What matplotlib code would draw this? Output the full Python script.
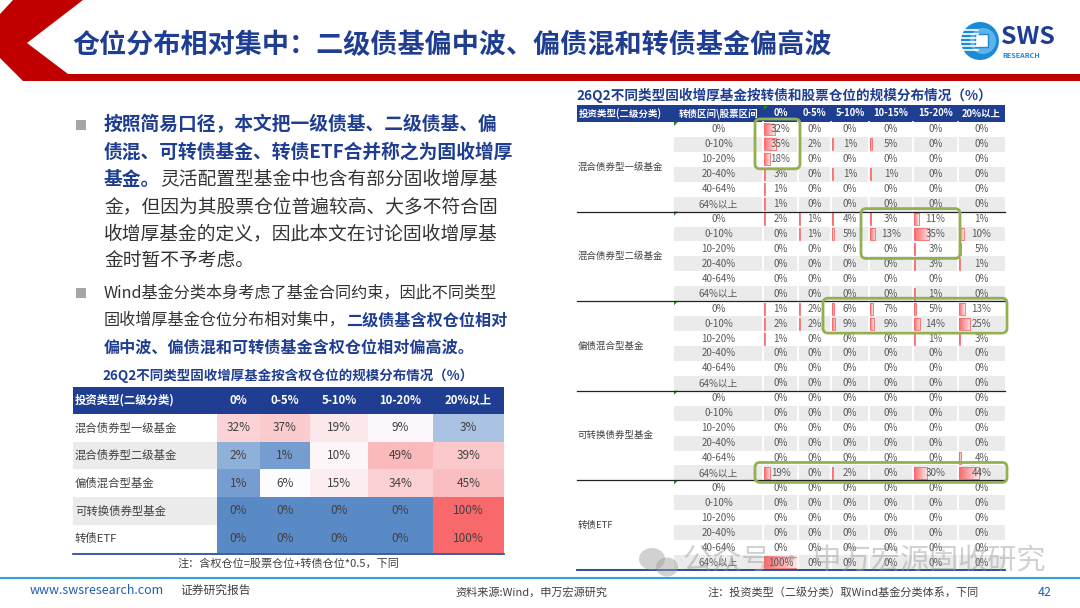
import numpy as np
import matplotlib
matplotlib.use("Agg")
import matplotlib.pyplot as plt
from matplotlib.patches import Polygon, Rectangle, Circle, Ellipse, FancyBboxPatch
from matplotlib.colors import LinearSegmentedColormap, TwoSlopeNorm

plt.rcParams['font.family'] = ['Noto Sans CJK SC', 'DejaVu Sans']

# ---------------- 数据 ----------------
titulo = "仓位分布相对集中：二级债基偏中波、偏债混和转债基金偏高波"

# 左表：按含权仓位
tipos = ["混合债券型一级基金", "混合债券型二级基金", "偏债混合型基金", "可转换债券型基金", "转债ETF"]
col_hanquan = ["0%", "0-5%", "5-10%", "10-20%", "20%以上"]
val_hanquan = np.array([
    [32, 37, 19, 9, 3],
    [2, 1, 10, 49, 39],
    [1, 6, 15, 34, 45],
    [0, 0, 0, 0, 100],
    [0, 0, 0, 0, 100],
])

# 右表：按转债和股票仓位
filas_zz = ["0%", "0-10%", "10-20%", "20-40%", "40-64%", "64%以上"]
col_gp = ["0%", "0-5%", "5-10%", "10-15%", "15-20%", "20%以上"]
val_yiji = [[32, 0, 0, 0, 0, 0], [35, 2, 1, 5, 0, 0], [18, 0, 0, 0, 0, 0],
            [3, 0, 1, 1, 0, 0], [1, 0, 0, 0, 0, 0], [1, 0, 0, 0, 0, 0]]
val_erji = [[2, 1, 4, 3, 11, 1], [0, 1, 5, 13, 35, 10], [0, 0, 0, 0, 3, 5],
            [0, 0, 0, 0, 3, 1], [0, 0, 0, 0, 0, 0], [0, 0, 0, 0, 1, 0]]
val_pianzhai = [[1, 2, 6, 7, 5, 13], [2, 2, 9, 9, 14, 25], [1, 0, 0, 0, 1, 3],
                [0, 0, 0, 0, 0, 0], [0, 0, 0, 0, 0, 0], [0, 0, 0, 0, 0, 0]]
val_kezhuan = [[0, 0, 0, 0, 0, 0], [0, 0, 0, 0, 0, 0], [0, 0, 0, 0, 0, 0],
               [0, 0, 0, 0, 0, 0], [0, 0, 0, 0, 0, 4], [19, 0, 2, 0, 30, 44]]
val_etf = [[0, 0, 0, 0, 0, 0], [0, 0, 0, 0, 0, 0], [0, 0, 0, 0, 0, 0],
           [0, 0, 0, 0, 0, 0], [0, 0, 0, 0, 0, 0], [100, 0, 0, 0, 0, 0]]
grupos = [val_yiji, val_erji, val_pianzhai, val_kezhuan, val_etf]

# 绿框：(组, 起始行, 结束行, 起始列, 结束列)
resaltes = [(0, 0, 2, 0, 0), (1, 0, 2, 3, 4), (2, 0, 1, 2, 5), (3, 5, 5, 0, 5)]

# 正文
bullet1 = [
    [("按照简易口径，本文把一级债基、二级债基、偏", True)],
    [("债混、可转债基金、转债ETF合并称之为固收增厚", True)],
    [("基金。", True), ("灵活配置型基金中也含有部分固收增厚基", False)],
    [("金，但因为其股票仓位普遍较高、大多不符合固", False)],
    [("收增厚基金的定义，因此本文在讨论固收增厚基", False)],
    [("金时暂不予考虑。", False)],
]
bullet2 = [
    [("Wind基金分类本身考虑了基金合同约束，因此不同类型", False)],
    [("固收增厚基金仓位分布相对集中，", False), ("二级债基含权仓位相对", True)],
    [("偏中波、偏债混和可转债基金含权仓位相对偏高波。", True)],
]

AZUL = "#1F3E92"
GRIS = "#404040"
ROJO = "#C00000"

# ---------------- 画布 ----------------
fig = plt.figure(figsize=(10.8, 6.08), dpi=100)
ax = fig.add_axes([0, 0, 1, 1])
ax.set_xlim(0, 1080)
ax.set_ylim(608, 0)
ax.axis("off")
renderer = fig.canvas.get_renderer()

# 标题栏红色折角
ax.add_patch(Polygon([(13, 0), (83, 0), (27, 43), (68, 74), (1080, 74), (1080, 81),
                      (23, 81), (0, 58), (0, 14)], closed=True, color=ROJO, lw=0))
ax.text(72, 45, titulo, fontsize=19.5, color=AZUL, weight="bold", va="center", ha="left")

# logo
ax.add_patch(Circle((980, 41), 19, color="#1C8AD6", lw=0))
ax.add_patch(Circle((983, 41), 13, color="#5DB4EC", lw=0))
for yy in np.arange(30, 54, 4):
    ax.plot([962, 978], [yy, yy], color="white", lw=1.2)
ax.add_patch(Rectangle((975, 34), 13, 13, facecolor="white", edgecolor="#1C8AD6", lw=1))
ax.text(1001, 37, "SWS", fontsize=18, weight="bold", color=AZUL, va="center", ha="left")
ax.text(1002, 55, "RESEARCH", fontsize=5.2, weight="bold", color="#1C8AD6", va="center", ha="left")


def escribir(x, y, partes, size):
    for txt, negrita in partes:
        t = ax.text(x, y, txt, fontsize=size, va="center", ha="left",
                    color=AZUL if negrita else "#333333",
                    weight="bold" if negrita else "normal")
        x += t.get_window_extent(renderer).width


for ys, bloque, tam in [(125, bullet1, 13.5), (293, bullet2, 11.6)]:
    ax.add_patch(Rectangle((76, ys - 5), 10, 10, color="#A6A6A6", lw=0))
    for i, linea in enumerate(bloque):
        escribir(104, ys + i * 27.3, linea, tam)

# ---------------- 左表 ----------------
lx = np.array([73, 217, 260, 310, 368, 433, 504])
lh_top, lh_bot = 387, 414
lrow = 27.7
ly = lh_bot + lrow * np.arange(len(tipos) + 1)

ax.text((lx[0] + lx[-1]) / 2, 376, "26Q2不同类型固收增厚基金按含权仓位的规模分布情况（%）",
        fontsize=9.7, weight="bold", color=AZUL, ha="center", va="center")
ax.add_patch(Rectangle((lx[0], lh_top), lx[-1] - lx[0], lh_bot - lh_top, color="#1F3E92", lw=0))
ax.text(lx[0] + 2, (lh_top + lh_bot) / 2, "投资类型(二级分类)", fontsize=8.2, weight="bold",
        color="white", ha="left", va="center")
for j, c in enumerate(col_hanquan):
    ax.text((lx[j + 1] + lx[j + 2]) / 2, (lh_top + lh_bot) / 2, c, fontsize=8.2,
            weight="bold", color="white", ha="center", va="center")

mid = np.percentile(val_hanquan, 50)
cmap3 = LinearSegmentedColormap.from_list("excel3", ["#5A8AC6", "#FCFCFF", "#F8696B"])
ax.pcolormesh(lx[1:], ly, val_hanquan, cmap=cmap3,
              norm=TwoSlopeNorm(vmin=0, vcenter=mid, vmax=val_hanquan.max()))
for i, tp in enumerate(tipos):
    if i % 2 == 1:
        ax.add_patch(Rectangle((lx[0], ly[i]), lx[1] - lx[0], lrow, color="#EBEBEB", lw=0))
    ax.text(lx[0] + 2, (ly[i] + ly[i + 1]) / 2, tp, fontsize=8.2, color=GRIS,
            ha="left", va="center")
    for j in range(len(col_hanquan)):
        ax.text((lx[j + 1] + lx[j + 2]) / 2, (ly[i] + ly[i + 1]) / 2, f"{val_hanquan[i, j]}%",
                fontsize=8.5, color=GRIS, ha="center", va="center")
ax.plot([lx[0], lx[-1]], [ly[-1] + 1, ly[-1] + 1], color="#1F3E92", lw=1.2)
ax.text((lx[0] + lx[-1]) / 2, 564, "注：含权仓位=股票仓位+转债仓位*0.5，下同",
        fontsize=8, color=GRIS, ha="center", va="center")

# ---------------- 右表 ----------------
rx = np.array([577, 674, 763, 798, 831, 869, 913, 958, 1005])
rh_top, rh_bot = 105, 122
nfil = len(filas_zz)
rrow = (570 - rh_bot) / (nfil * len(grupos))

ax.text(576, 95, "26Q2不同类型固收增厚基金按转债和股票仓位的规模分布情况（%）",
        fontsize=9.8, weight="bold", color=AZUL, ha="left", va="center")
ax.add_patch(Rectangle((rx[0], rh_top), rx[-1] - rx[0], rh_bot - rh_top, color="#1F3E92", lw=0))
ax.text(rx[0] + 2, (rh_top + rh_bot) / 2, "投资类型(二级分类)", fontsize=6.8, weight="bold",
        color="white", ha="left", va="center")
ax.text((rx[1] + rx[2]) / 2, (rh_top + rh_bot) / 2, "转债区间\\股票区间", fontsize=6.8,
        weight="bold", color="white", ha="center", va="center")
for j, c in enumerate(col_gp):
    ax.text((rx[j + 2] + rx[j + 3]) / 2, (rh_top + rh_bot) / 2, c, fontsize=6.8,
            weight="bold", color="white", ha="center", va="center")

grad = LinearSegmentedColormap.from_list("barra", ["#F8696B", "#FDE6E7"])
gimg = np.linspace(0, 1, 64).reshape(1, -1)

for g, (nombre, datos) in enumerate(zip(tipos, grupos)):
    g_top = rh_bot + g * nfil * rrow
    ax.text(rx[0] + 1, g_top + nfil * rrow / 2, nombre, fontsize=6.8, color=GRIS,
            ha="left", va="center")
    for i, fila in enumerate(filas_zz):
        y0 = g_top + i * rrow
        if i % 2 == 1:
            ax.add_patch(Rectangle((rx[1], y0), rx[-1] - rx[1], rrow, color="#EBEBEB", lw=0))
        ax.text((rx[1] + rx[2]) / 2, y0 + rrow / 2, fila, fontsize=7, color="#595959",
                ha="center", va="center")
        for j, v in enumerate(datos[i]):
            x0, x1 = rx[j + 2], rx[j + 3]
            if v > 0:
                w = max(v / 100 * (x1 - x0 - 2), 1.0)
                ax.imshow(gimg, cmap=grad, aspect="auto", interpolation="bilinear",
                          extent=(x0 + 1, x0 + 1 + w, y0 + rrow - 1.5, y0 + 1.5), zorder=2)
                ax.add_patch(Rectangle((x0 + 1, y0 + 1.5), w, rrow - 3, fill=False,
                                       edgecolor="#F8696B", lw=0.6, zorder=2.1))
            ax.text((x0 + x1) / 2, y0 + rrow / 2, f"{v}%", fontsize=7, color="#595959",
                    ha="center", va="center", zorder=3)
    # 绿色小三角
    ax.add_patch(Polygon([(rx[1], g_top), (rx[1] + 4, g_top), (rx[1], g_top + 4)],
                         color="#1E8C1E", lw=0, zorder=3))
    if g > 0:
        ax.plot([rx[0], rx[-1]], [g_top, g_top], color="#222222", lw=0.9, zorder=3)

for xv in rx[2:-1]:
    ax.plot([xv, xv], [rh_bot, 570], color="white", lw=1.3, zorder=2.5)
ax.add_patch(Polygon([(rx[2] + 1, rh_top + 1), (rx[2] + 5, rh_top + 1), (rx[2] + 1, rh_top + 5)],
                     color="#1E8C1E", lw=0, zorder=3))
ax.plot([rx[0], rx[-1]], [570, 570], color="#1F3E92", lw=1.3, zorder=3)

for g, r0, r1, c0, c1 in resaltes:
    g_top = rh_bot + g * nfil * rrow
    xa, xb = rx[c0 + 2] - 8, rx[c1 + 3] + 2
    ya, yb = g_top + r0 * rrow - 3, g_top + (r1 + 1) * rrow + 2
    ax.add_patch(FancyBboxPatch((xa, ya), xb - xa, yb - ya,
                                boxstyle="round,pad=0,rounding_size=5",
                                fill=False, edgecolor="#92B050", lw=2, zorder=4))

# ---------------- 页脚 ----------------
ax.plot([0, 1080], [578, 578], color="#2EA3DB", lw=1.5)
ax.text(30, 591, "www.swsresearch.com", fontsize=9, color="#1F5FAF", ha="left", va="center")
ax.text(180, 590, "证券研究报告", fontsize=8.5, color=GRIS, ha="left", va="center")
ax.text(455, 592, "资料来源:Wind，申万宏源研究", fontsize=8, color=GRIS, ha="left", va="center")
ax.text(708, 592, "注：投资类型（二级分类）取Wind基金分类体系，下同", fontsize=8, color=GRIS,
        ha="left", va="center")
ax.text(1045, 592, "42", fontsize=9, color="#1F5FAF", ha="center", va="center")

# 水印
ax.add_patch(Ellipse((652, 559), 26, 22, color="#9A9A9A", alpha=0.45, lw=0, zorder=5))
ax.add_patch(Ellipse((667, 567), 22, 19, color="#9A9A9A", alpha=0.45, lw=0, zorder=5))
ax.text(683, 562, "公众号 · 申万宏源固收研究", fontsize=21, color="#9A9A9A", alpha=0.45,
        ha="left", va="center", zorder=5)

ax.set_xlim(0, 1080)
ax.set_ylim(608, 0)
fig.savefig("out.png", dpi=100)
